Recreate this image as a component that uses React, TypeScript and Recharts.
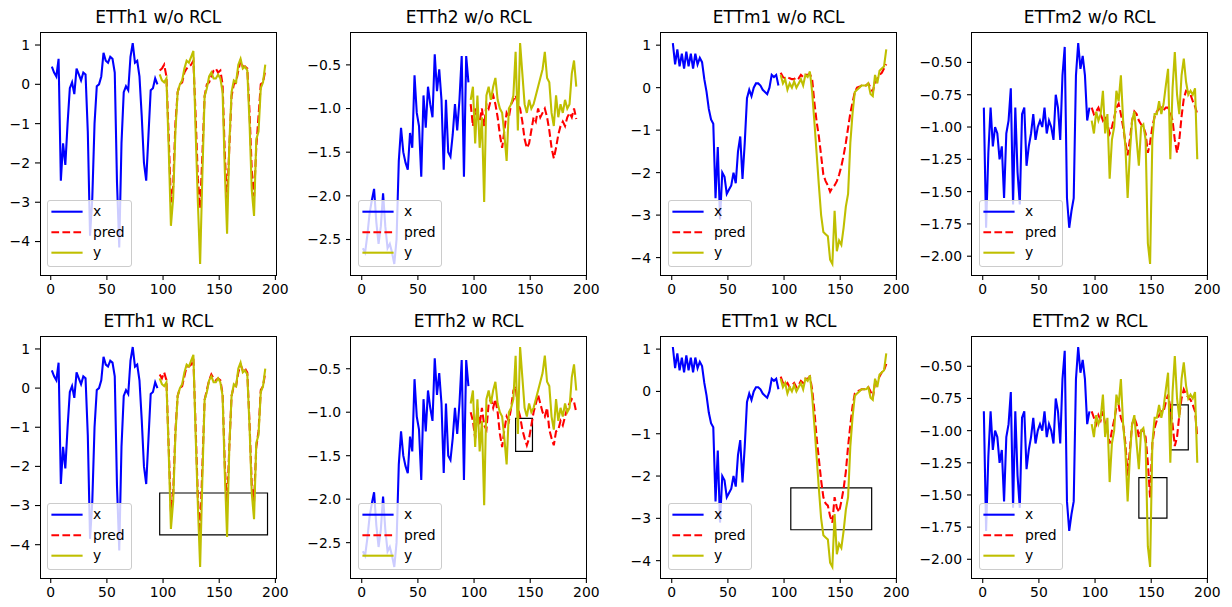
import React from "react";
import { LineChart, Line, XAxis, YAxis, ReferenceArea } from "recharts";

// input window x sits on t = 1, 3, ..., 95; forecast (y, pred) on t = 97, 99, ..., 191

const etth1X = [
  0.45, 0.3, 0.2, 0.65, -2.45, -1.5, -2.05, -1.0, -0.1, 0.05, -0.25, 0.4, 0.25, 0.1, 0.3, 0.25,
  -1.2, -3.85, -2.9, -1.0, -0.05, 0.0, 0.2, 0.8, 0.6, 0.55, 0.7, 0.65, 0.3, -2.5, -4.15, -1.5,
  -0.2, -0.05, -0.15, 0.7, 1.05, 0.55, 0.6, 0.2, -0.8, -2.0, -2.45, -1.3, -0.15, -0.1, 0.15, 0.0,
];
const etth1Y = [
  0.25, 0.1, 0.05, 0.15, -1.6, -3.6, -2.9, -1.2, -0.2, 0.0, 0.1, 0.4, 0.6, 0.55, 0.7, 0.85,
  -1.2, -3.0, -4.57, -2.3, -0.3, -0.1, 0.2, 0.3, 0.15, 0.15, 0.25, 0.15, -0.2, -2.2, -3.8, -1.5,
  -0.2, 0.1, 0.05, 0.5, 0.65, 0.4, 0.45, 0.35, -1.0, -2.7, -3.35, -1.4, -1.2, -0.1, 0.05, 0.5,
];
const etth1PredWo = [
  0.35, 0.4, 0.5, 0.2, -1.3, -3.0, -2.6, -1.0, -0.2, 0.0, 0.05, 0.3, 0.4, 0.45, 0.5, 0.6,
  -0.8, -2.4, -3.15, -1.8, -0.3, 0.0, 0.05, 0.2, 0.35, 0.4, 0.3, 0.35, 0.0, -1.8, -3.0, -1.6,
  -0.3, 0.0, 0.05, 0.35, 0.6, 0.45, 0.45, 0.4, -0.7, -2.2, -2.85, -1.6, -0.8, 0.0, 0.05, 0.35,
];
const etth1PredW = [
  0.35, 0.25, 0.4, 0.2, -1.5, -3.15, -2.7, -1.1, -0.2, 0.0, 0.05, 0.3, 0.55, 0.55, 0.6, 0.75,
  -1.0, -2.8, -3.7, -2.0, -0.3, -0.05, 0.2, 0.35, 0.25, 0.2, 0.25, 0.2, -0.15, -2.0, -3.0, -1.5,
  -0.2, 0.05, 0.05, 0.4, 0.6, 0.45, 0.5, 0.4, -0.9, -2.5, -2.9, -1.5, -1.1, -0.05, 0.05, 0.4,
];

const etth2X = [
  -2.6, -2.65, -2.45, -2.2, -2.05, -1.92, -2.3, -2.55, -2.35, -1.97, -2.35, -2.6, -2.55, -2.65, -2.78, -2.5,
  -1.6, -1.22, -1.5, -1.62, -1.7, -1.28, -1.45, -0.62, -1.05, -1.2, -1.78, -0.85, -1.22, -0.75, -0.95, -1.1,
  -0.38, -0.8, -0.55, -0.9, -1.7, -0.9, -1.5, -1.55, -1.3, -0.95, -1.25, -0.9, -0.4, -1.78, -0.4, -0.7,
];
const etth2Y = [
  -0.9, -0.75, -1.4, -0.85, -1.45, -1.1, -2.07, -0.85, -0.75, -0.9, -0.75, -0.65, -0.9, -1.0, -1.05, -1.3,
  -1.6, -1.0, -0.95, -0.85, -0.35, -1.25, -0.25, -0.6, -0.95, -1.05, -0.9, -1.0, -0.95, -0.85, -0.75, -0.65,
  -0.55, -0.35, -0.65, -0.7, -1.05, -1.2, -0.85, -1.1, -0.95, -1.05, -0.9, -1.0, -0.95, -0.6, -0.45, -0.75,
];
const etth2PredWo = [
  -0.95, -1.2, -1.0, -1.1, -1.15, -1.0, -1.2, -0.95, -1.0, -0.9, -0.85, -0.95, -1.1, -1.3, -1.45, -1.25,
  -1.05, -1.1, -0.95, -0.9, -0.85, -0.95, -1.0, -1.15, -1.35, -1.45, -1.4, -1.25, -1.1, -1.15, -1.0, -1.1,
  -1.05, -1.0, -1.1, -1.25, -1.45, -1.57, -1.45, -1.3, -1.2, -1.15, -1.2, -1.1, -1.05, -1.1, -1.0, -1.12,
];
const etth2PredW = [
  -1.0, -1.1, -1.3, -0.95, -1.15, -0.95, -1.15, -1.2, -0.9, -0.85, -0.95, -0.85, -1.0, -1.25, -1.4, -1.2,
  -1.05, -1.1, -0.95, -0.75, -0.7, -0.95, -1.05, -1.2, -1.3, -1.38, -1.3, -1.15, -1.0, -0.9, -0.8, -0.9,
  -1.0, -1.05, -0.95, -1.2, -1.3, -1.38, -1.22, -1.2, -1.1, -1.15, -1.05, -0.95, -0.9, -0.85, -0.88, -1.0,
];

const ettm1X = [
  1.05, 0.55, 0.9, 0.5, 0.8, 0.45, 0.85, 0.5, 0.8, 0.45, 0.8, 0.55, 0.7, 0.6, 0.2, -0.1,
  -0.5, -0.75, -0.85, -2.6, -1.4, -3.1, -2.0, -2.1, -2.5, -2.4, -2.3, -2.0, -2.25, -1.5, -1.15, -2.15,
  -1.3, -0.25, -0.05, -0.2, 0.0, 0.1, 0.1, 0.05, -0.05, -0.1, -0.15, 0.0, 0.3, 0.25, 0.3, 0.05,
];
const ettm1Y = [
  0.3, 0.1, 0.2, -0.05, 0.1, 0.0, 0.15, 0.0, 0.1, 0.2, 0.05, 0.3, 0.25, 0.38, -0.1, -0.8,
  -1.55, -2.3, -3.0, -3.4, -3.45, -3.5, -4.05, -4.15, -2.9, -3.85, -3.6, -3.7, -3.3, -2.8, -2.5, -1.3,
  -0.6, -0.1, -0.05, 0.0, 0.05, 0.05, 0.05, 0.1, -0.15, -0.2, 0.3, 0.1, 0.4, 0.45, 0.5, 0.9,
];
const ettm1PredWo = [
  0.35, 0.25, 0.22, 0.25, 0.22, 0.2, 0.2, 0.25, 0.22, 0.3, 0.25, 0.3, 0.3, 0.32, 0.2, -0.35,
  -0.8, -1.15, -1.6, -2.05, -2.2, -2.3, -2.45, -2.35, -2.3, -2.2, -2.05, -1.85, -1.6, -1.3, -0.95, -0.6,
  -0.35, -0.1, 0.0, 0.02, 0.05, 0.05, 0.05, 0.1, 0.0, -0.1, 0.15, 0.2, 0.3, 0.35, 0.45, 0.55,
];
const ettm1PredW = [
  0.35, 0.2, 0.15, 0.2, 0.1, 0.15, 0.2, 0.1, 0.15, 0.25, 0.2, 0.3, 0.3, 0.35, 0.05, -0.45,
  -1.1, -1.6, -2.1, -2.5, -2.65, -2.7, -2.95, -3.1, -2.5, -2.75, -2.85, -2.6, -2.3, -1.9, -1.3, -0.8,
  -0.35, -0.05, 0.0, 0.02, 0.05, 0.05, 0.05, 0.1, 0.0, -0.15, 0.2, 0.25, 0.35, 0.45, 0.5, 0.65,
];

const ettm2X = [
  -0.85, -1.78, -1.2, -0.85, -1.15, -1.0, -1.05, -1.25, -1.15, -1.55, -1.05, -0.95, -0.7, -1.6, -0.85, -1.35,
  -1.6, -0.9, -0.85, -1.3, -1.15, -1.05, -0.9, -1.1, -1.0, -0.95, -1.0, -0.85, -1.05, -0.95, -1.0, -1.1,
  -0.75, -0.85, -1.1, -0.6, -0.38, -1.55, -1.78, -1.65, -1.55, -0.6, -0.35, -0.55, -0.45, -0.6, -0.95, -0.85,
];
const ettm2Y = [
  -0.95, -1.05, -0.88, -0.95, -0.9, -0.72, -1.05, -0.9, -1.4, -1.1, -1.0, -0.72, -0.8, -0.6, -0.95, -1.15,
  -1.55, -1.2, -0.95, -0.88, -1.1, -1.3, -1.0, -0.98, -1.1, -1.9, -2.06, -1.1, -0.9, -0.9, -0.8, -0.9,
  -0.82, -0.68, -0.55, -1.25, -0.7, -0.42, -0.75, -0.9, -0.6, -0.47, -0.65, -0.75, -0.72, -0.75, -0.7, -1.25,
];
const ettm2PredWo = [
  -0.85, -0.9, -0.88, -0.85, -0.9, -0.95, -0.92, -0.98, -1.05, -1.0, -0.93, -0.85, -0.82, -0.9, -1.0, -1.12,
  -1.22, -1.1, -0.95, -0.88, -0.9, -0.95, -0.98, -1.0, -1.05, -1.2, -1.12, -1.0, -0.92, -0.88, -0.86, -0.85,
  -0.87, -0.85, -0.85, -0.88, -0.95, -1.1, -1.2, -1.1, -0.92, -0.78, -0.72, -0.73, -0.75, -0.8, -0.84, -0.9,
];
const ettm2PredW = [
  -0.85, -0.9, -0.95, -0.88, -0.92, -0.85, -0.95, -1.0, -1.1, -1.0, -0.92, -0.82, -0.8, -0.9, -0.95, -1.1,
  -1.35, -1.15, -0.95, -0.9, -0.95, -1.05, -1.0, -1.0, -1.05, -1.25, -1.52, -1.1, -0.98, -0.92, -0.88, -0.85,
  -0.85, -0.78, -0.72, -0.82, -0.95, -1.12, -1.05, -0.88, -0.75, -0.68, -0.72, -0.74, -0.76, -0.8, -0.85, -1.05,
];

const xTicks = [0, 50, 100, 150, 200];
const etth1Ticks = [1, 0, -1, -2, -3, -4];
const etth2Ticks = [-0.5, -1.0, -1.5, -2.0, -2.5];
const ettm1Ticks = [1, 0, -1, -2, -3, -4];
const ettm2Ticks = [-0.5, -0.75, -1.0, -1.25, -1.5, -1.75, -2.0];

// highlighted regions in the "w RCL" row: [t1, t2, v1, v2]
const etth1Boxes = [[97, 193, -3.75, -2.68]];
const etth2Boxes = [[137, 152, -1.45, -1.07]];
const ettm1Boxes = [[106, 178, -3.27, -2.28]];
const ettm2Boxes = [
  [139, 164, -1.68, -1.366],
  [167, 183, -1.15, -0.8],
];

const BLUE = "#0000ff";
const RED = "#ff0000";
const OLIVE = "#bfbf00";
const FONT = "DejaVu Sans, sans-serif";
const LW = 2.08;
const DASH = "7.7 3.3";

const PLOT_W = 236;
const COL_LEFT = [40.3, 350.7, 660.7, 971.7];
const ROW_TOP = [32, 336];
const ROW_H = [243, 242];
const AXIS_W = 60;
const TOP_PAD = 10;
const BOTTOM_PAD = 30;
const RIGHT_PAD = 20;

function buildRows(xs: number[], ys: number[], preds: number[]) {
  const rows: any[] = [];
  xs.forEach((v, i) => rows.push({ t: 1 + 2 * i, x: v }));
  ys.forEach((v, i) => rows.push({ t: 97 + 2 * i, y: v, pred: preds[i] }));
  return rows;
}

function LegendBox({ left, top }: { left: number; top: number }) {
  const items = [
    { label: "x", color: BLUE, dash: undefined as string | undefined, y: 10.7 },
    { label: "pred", color: RED, dash: DASH, y: 31.3 },
    { label: "y", color: OLIVE, dash: undefined, y: 51.7 },
  ];
  return (
    <div
      style={{
        position: "absolute",
        left,
        top,
        width: 84.4,
        height: 67.3,
        boxSizing: "border-box",
        border: "1px solid #cccccc",
        borderRadius: 3,
        background: "rgba(255,255,255,0.8)",
      }}
    >
      <svg width={83} height={66} style={{ position: "absolute", left: 0, top: 0, overflow: "visible" }}>
        {items.map((it) => (
          <g key={it.label}>
            <line x1={3.4} x2={34.6} y1={it.y} y2={it.y} stroke={it.color} strokeWidth={LW} strokeDasharray={it.dash} />
            <text x={45} y={it.y + 4.6} fontSize={13.9} fontFamily={FONT} fill="#000">
              {it.label}
            </text>
          </g>
        ))}
      </svg>
    </div>
  );
}

interface PanelProps {
  title: string;
  xs: number[];
  ys: number[];
  preds: number[];
  yTicks: number[];
  decimals: number;
  boxes: number[][];
  col: number;
  row: number;
}

function Panel({ title, xs, ys, preds, yTicks, decimals, boxes, col, row }: PanelProps) {
  const left = COL_LEFT[col];
  const top = ROW_TOP[row];
  const h = ROW_H[row];
  const all = [...xs, ...ys, ...preds];
  const lo = Math.min(...all);
  const hi = Math.max(...all);
  const pad = (hi - lo) * 0.05;
  const data = buildRows(xs, ys, preds);
  const fmt = (v: number) => v.toFixed(decimals).replace("-", "\u2212");
  const tickStyle = { fontSize: 13.9, fill: "#000", fontFamily: FONT };

  return (
    <>
      <div
        style={{
          position: "absolute",
          left,
          top: top - 24,
          width: PLOT_W,
          textAlign: "center",
          fontSize: 17,
          lineHeight: "18px",
          fontFamily: FONT,
          color: "#000",
          whiteSpace: "nowrap",
        }}
      >
        {title}
      </div>
      <div style={{ position: "absolute", left: left - AXIS_W, top: top - TOP_PAD }}>
        <LineChart
          width={AXIS_W + PLOT_W + RIGHT_PAD}
          height={TOP_PAD + h + BOTTOM_PAD}
          data={data}
          margin={{ top: TOP_PAD, right: RIGHT_PAD, left: 0, bottom: 0 }}
        >
          <XAxis
            dataKey="t"
            type="number"
            domain={[-9.55, 200.55]}
            ticks={xTicks}
            allowDataOverflow
            height={BOTTOM_PAD}
            axisLine={false}
            tickLine={{ stroke: "#000", strokeWidth: 1.1 }}
            tickSize={5}
            tickMargin={4}
            tick={tickStyle}
            interval={0}
          />
          <YAxis
            type="number"
            domain={[lo - pad, hi + pad]}
            ticks={yTicks}
            allowDataOverflow
            width={AXIS_W}
            axisLine={false}
            tickLine={{ stroke: "#000", strokeWidth: 1.1 }}
            tickSize={5}
            tickMargin={5}
            tick={tickStyle}
            tickFormatter={fmt}
            interval={0}
          />
          {boxes.map((b, i) => (
            <ReferenceArea
              key={i}
              x1={b[0]}
              x2={b[1]}
              y1={b[2]}
              y2={b[3]}
              fill="none"
              stroke="#000"
              strokeWidth={1.2}
              ifOverflow="visible"
            />
          ))}
          <Line dataKey="x" stroke={BLUE} strokeWidth={LW} dot={false} activeDot={false} isAnimationActive={false} />
          <Line
            dataKey="pred"
            stroke={RED}
            strokeWidth={LW}
            strokeDasharray={DASH}
            dot={false}
            activeDot={false}
            isAnimationActive={false}
          />
          <Line dataKey="y" stroke={OLIVE} strokeWidth={LW} dot={false} activeDot={false} isAnimationActive={false} />
        </LineChart>
      </div>
      <LegendBox left={left + 7} top={top + h - 7.7 - 67.3} />
      <div
        style={{
          position: "absolute",
          left: left - 0.5,
          top: top - 0.5,
          width: PLOT_W + 1,
          height: h + 1,
          boxSizing: "border-box",
          border: "1px solid #000",
          pointerEvents: "none",
        }}
      />
    </>
  );
}

const panels: PanelProps[] = [
  { title: "ETTh1 w/o RCL", xs: etth1X, ys: etth1Y, preds: etth1PredWo, yTicks: etth1Ticks, decimals: 0, boxes: [], col: 0, row: 0 },
  { title: "ETTh2 w/o RCL", xs: etth2X, ys: etth2Y, preds: etth2PredWo, yTicks: etth2Ticks, decimals: 1, boxes: [], col: 1, row: 0 },
  { title: "ETTm1 w/o RCL", xs: ettm1X, ys: ettm1Y, preds: ettm1PredWo, yTicks: ettm1Ticks, decimals: 0, boxes: [], col: 2, row: 0 },
  { title: "ETTm2 w/o RCL", xs: ettm2X, ys: ettm2Y, preds: ettm2PredWo, yTicks: ettm2Ticks, decimals: 2, boxes: [], col: 3, row: 0 },
  { title: "ETTh1 w RCL", xs: etth1X, ys: etth1Y, preds: etth1PredW, yTicks: etth1Ticks, decimals: 0, boxes: etth1Boxes, col: 0, row: 1 },
  { title: "ETTh2 w RCL", xs: etth2X, ys: etth2Y, preds: etth2PredW, yTicks: etth2Ticks, decimals: 1, boxes: etth2Boxes, col: 1, row: 1 },
  { title: "ETTm1 w RCL", xs: ettm1X, ys: ettm1Y, preds: ettm1PredW, yTicks: ettm1Ticks, decimals: 0, boxes: ettm1Boxes, col: 2, row: 1 },
  { title: "ETTm2 w RCL", xs: ettm2X, ys: ettm2Y, preds: ettm2PredW, yTicks: ettm2Ticks, decimals: 2, boxes: ettm2Boxes, col: 3, row: 1 },
];

export default function App() {
  return (
    <div
      style={{
        position: "absolute",
        left: 0,
        top: 0,
        width: 1232,
        height: 607,
        background: "#fff",
        fontFamily: FONT,
        overflow: "hidden",
      }}
    >
      {panels.map((p) => (
        <Panel key={p.title} {...p} />
      ))}
    </div>
  );
}
